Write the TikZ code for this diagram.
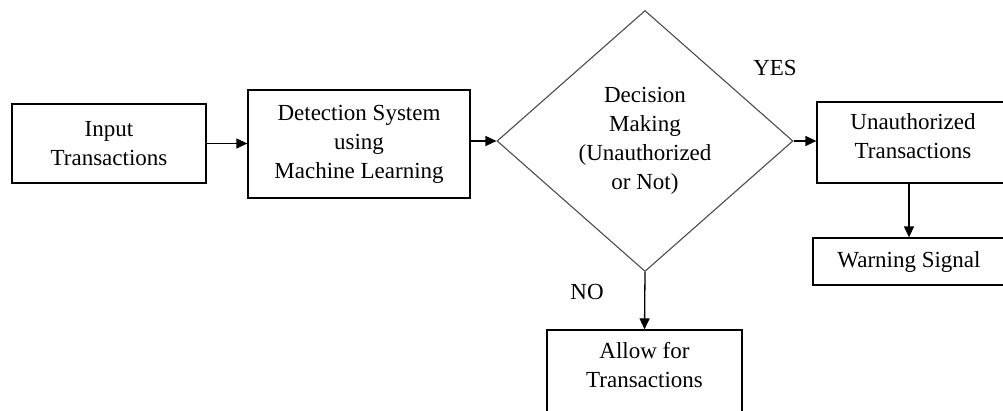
\documentclass[tikz,border=0pt]{standalone}
\usepackage{fontspec}
\setmainfont{Liberation Serif}
\usepackage{xcolor}
\usepackage{tikz}
\usetikzlibrary{arrows.meta,shapes.geometric}

\begin{document}
\begin{tikzpicture}[
    x=1pt, y=-1pt,
    font=\fontsize{23}{29}\selectfont,
    >={Triangle[length=11pt,width=10pt]},
    stage/.style={
        draw,
        line width=1.3pt,
        align=center,
        inner sep=0pt
    },
    decision/.style={
        diamond,
        draw=black!70,
        line width=1.1pt,
        aspect=1.13,
        align=center,
        inner sep=0pt,
        minimum width=296pt,
        minimum height=261pt
    },
    flow/.style={
        ->,
        line width=1.3pt
    },
    lab/.style={
        inner sep=0pt
    }
]

% page frame, boxes running off the edge are cut
\useasboundingbox (0,0) rectangle (1003,410);
\clip (0,0) rectangle (1003,410);

% Main row
\node[stage, minimum width=194pt, minimum height=79pt] (inp) at (109,143.5)
    {Input\\Transactions};
\node[stage, minimum width=222pt, minimum height=108pt] (det) at (359,144)
    {Detection System\\using\\Machine Learning};
\node[decision] (dec) at (645,141)
    {Decision\\Making\\(Unauthorized\\or Not)};
\node[stage, minimum width=192pt, minimum height=81pt] (unauth) at (913,142.5)
    {Unauthorized\\Transactions\\[-17pt]};

% Branch outcomes
\node[stage, minimum width=192pt, minimum height=47pt] (warn) at (909,261.5)
    {Warning Signal};
\node[stage, minimum width=195pt, minimum height=90pt] (allow) at (644.5,375)
    {Allow for\\Transactions\\[-9pt]};

% Connectors
\draw[flow] (inp.east) -- (det.west |- inp.east);
\draw[flow] (dec.west -| det.east) -- (dec.west);
\draw[flow] (dec.east) -- (dec.east -| unauth.west);
\draw[flow] (warn.north |- unauth.south) -- (warn.north);
\draw[flow] (dec.south) -- (allow.north);

% Branch labels
\node[lab] (yes) at (775,68) {YES};
\node[lab] (no) at (587,292) {NO};

\end{tikzpicture}
\end{document}
